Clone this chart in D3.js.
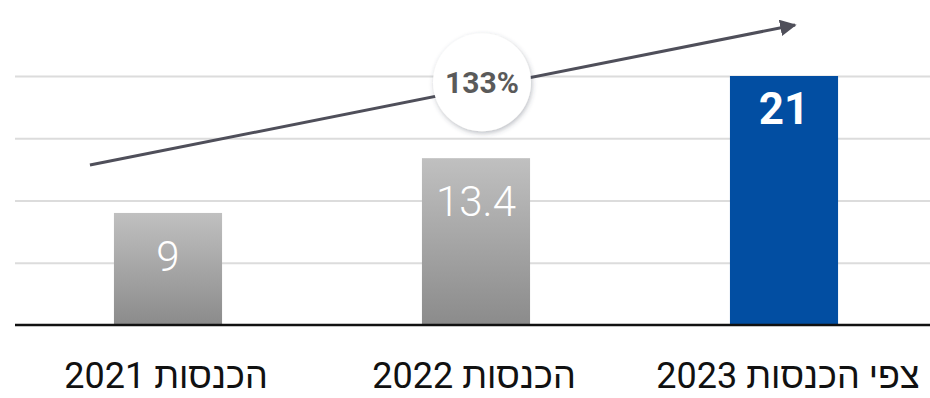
<!DOCTYPE html>
<html>
<head>
<meta charset="utf-8">
<script src="https://cdn.jsdelivr.net/npm/d3@7"></script>
<style>
  html, body { margin: 0; padding: 0; background: #fff; }
  svg { display: block; }
</style>
</head>
<body>
<svg id="chart" width="930" height="398"></svg>
<script>
// Revenue per year (millions), with the 2023 figure a forecast
const categories = ["2021", "2022", "2023"];
const categoryLabels = ["הכנסות 2021", "הכנסות 2022", "צפי הכנסות 2023"];
const values = [9, 13.4, 21];
const valueLabels = ["9", "13.4", "21"];
const gridTicks = [5, 10, 15, 20];
const growthLabel = "133%";

const W = 930, H = 398;
const plot = { left: 14, right: 938, top: 76, bottom: 325 };

const svg = d3.select("#chart");

const x = d3.scaleBand()
  .domain(categories)
  .range([plot.left, plot.right])
  .paddingInner(0.649)
  .paddingOuter(0.3245);

// value axis tops out at 20; taller bars are cut at the frame
const y = d3.scaleLinear().domain([0, 20]).range([plot.bottom, plot.top]);

const defs = svg.append("defs");

const grad = defs.append("linearGradient")
  .attr("id", "greyBar").attr("x1", 0).attr("y1", 0).attr("x2", 0).attr("y2", 1);
grad.append("stop").attr("offset", "0%").attr("stop-color", "#c0c0c0");
grad.append("stop").attr("offset", "100%").attr("stop-color", "#8b8b8b");

defs.append("clipPath").attr("id", "plotClip")
  .append("rect")
  .attr("x", 0).attr("y", y(20))
  .attr("width", W).attr("height", y(0) - y(20));

const shadow = defs.append("filter").attr("id", "softShadow")
  .attr("x", "-30%").attr("y", "-30%").attr("width", "160%").attr("height", "160%");
shadow.append("feDropShadow")
  .attr("dx", 1).attr("dy", 2).attr("stdDeviation", 2.5)
  .attr("flood-color", "#3a3f55").attr("flood-opacity", 0.35);

defs.append("marker")
  .attr("id", "arrowHead")
  .attr("viewBox", "0 0 10 10")
  .attr("refX", 9).attr("refY", 5)
  .attr("markerWidth", 5.5).attr("markerHeight", 5.5)
  .attr("markerUnits", "strokeWidth")
  .attr("orient", "auto")
  .append("path").attr("d", "M0,0 L10,5 L0,10 Z").attr("fill", "#4f4f5a");

// horizontal gridlines
const yAxis = d3.axisLeft(y).tickValues(gridTicks)
  .tickSize(-(W - 15)).tickFormat("");
const gAxis = svg.append("g").attr("transform", `translate(15,0)`).call(yAxis);
gAxis.select(".domain").remove();
gAxis.selectAll(".tick line").attr("stroke", "#dcdcdc").attr("stroke-width", 2);

// bars
svg.append("g").attr("clip-path", "url(#plotClip)")
  .selectAll("rect")
  .data(values)
  .join("rect")
  .attr("x", (d, i) => x(categories[i]))
  .attr("width", x.bandwidth())
  .attr("y", d => y(d))
  .attr("height", d => y(0) - y(d))
  .attr("fill", (d, i) => i === categories.length - 1 ? "#024ea2" : "url(#greyBar)");

// baseline
svg.append("line")
  .attr("x1", 15).attr("x2", W)
  .attr("y1", y(0)).attr("y2", y(0))
  .attr("stroke", "#111").attr("stroke-width", 2.5);

// value labels inside the bars
svg.append("g")
  .selectAll("text")
  .data(values)
  .join("text")
  .attr("x", (d, i) => x(categories[i]) + x.bandwidth() / 2)
  .attr("y", (d, i) => y(Math.min(d, 20)) + (i === 2 ? 48 : 58))
  .attr("text-anchor", "middle")
  .attr("font-family", "Roboto, 'Liberation Sans', sans-serif")
  .attr("font-size", (d, i) => i === 2 ? 44 : 42)
  .attr("font-weight", (d, i) => i === 2 ? 700 : 300)
  .attr("fill", "#fff")
  .text((d, i) => valueLabels[i]);

// category labels
svg.append("g")
  .selectAll("text")
  .data(categoryLabels)
  .join("text")
  .attr("x", (d, i) => x(categories[i]) + x.bandwidth() / 2 + (i === 2 ? 4 : -2))
  .attr("y", 388)
  .attr("direction", "rtl")
  .attr("text-anchor", "middle")
  .attr("font-family", "Roboto, 'Liberation Sans', sans-serif")
  .attr("font-size", 36)
  .attr("fill", "#111")
  .text(d => d);

// growth trend arrow, anchored in value units
const arrowFrom = { x: x(categories[0]) - 24, v: 12.85 };
const arrowTo = { x: x(categories[2]) + x.bandwidth() / 2 + 11, v: 24.1 };
const yFree = y.copy();
svg.append("line")
  .attr("x1", arrowFrom.x).attr("y1", yFree(arrowFrom.v))
  .attr("x2", arrowTo.x).attr("y2", yFree(arrowTo.v))
  .attr("stroke", "#4f4f5a").attr("stroke-width", 3)
  .attr("marker-end", "url(#arrowHead)");

// growth badge
const badge = svg.append("g")
  .attr("transform", `translate(${x(categories[1]) + x.bandwidth() / 2 + 6},${y(19.5)})`);
badge.append("circle").attr("r", 49).attr("fill", "#fff").attr("filter", "url(#softShadow)");
badge.append("text")
  .attr("text-anchor", "middle").attr("dy", 11)
  .attr("font-family", "Roboto, 'Liberation Sans', sans-serif")
  .attr("font-size", 30).attr("font-weight", 700)
  .attr("fill", "#5a5a5a")
  .text(growthLabel);
</script>
</body>
</html>
